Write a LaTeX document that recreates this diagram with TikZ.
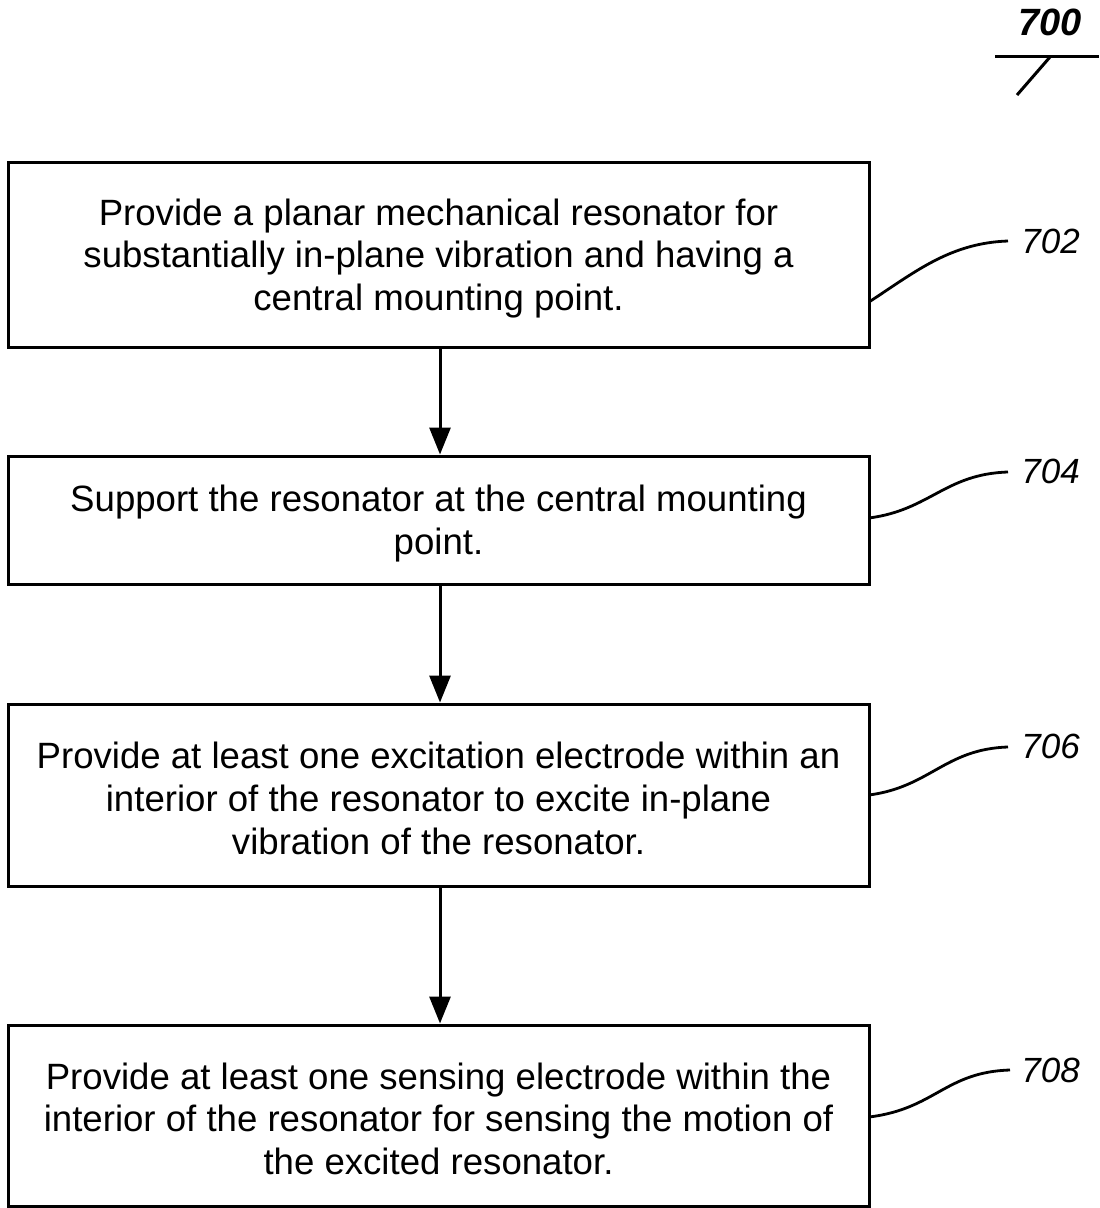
\documentclass[tikz,border=0pt]{standalone}
\usepackage{fontspec}
\setmainfont{Liberation Sans}
\usetikzlibrary{arrows.meta}
\newcommand{\toppad}{\rule{0pt}{16.6pt}}
\begin{document}
\begin{tikzpicture}[x=0.5pt,y=-0.5pt,
  stepbox/.style={draw,line width=1.5pt,minimum width=430.5pt,inner sep=0pt,align=center,
    font=\fontsize{18.3}{21.3}\selectfont},
  flow/.style={line width=1.5pt,-{Triangle[length=13.5pt,width=10.5pt]}},
  leader/.style={line width=1.4pt},
  reflabel/.style={font=\fontsize{17.5}{20}\selectfont\itshape,anchor=west,inner sep=0pt}]
\useasboundingbox (0,0) rectangle (1099,1208);
\node[stepbox,minimum height=92pt] (b1) at (438.5,255)
  {\toppad Provide a planar mechanical resonator for\\substantially in-plane vibration and having a\\central mounting point.};
\node[stepbox,minimum height=64pt] (b2) at (438.5,520)
  {\toppad Support the resonator at the central mounting\\point.};
\node[stepbox,minimum height=91pt] (b3) at (438.5,795)
  {\toppad Provide at least one excitation electrode within an\\interior of the resonator to excite in-plane\\vibration of the resonator.};
\node[stepbox,minimum height=90.5pt] (b4) at (438.5,1115.5)
  {\toppad Provide at least one sensing electrode within the\\interior of the resonator for sensing the motion of\\the excited resonator.};
\draw[flow] (b1.south -| 440,0) -- (b2.north -| 440,0);
\draw[flow] (b2.south -| 440,0) -- (b3.north -| 440,0);
\draw[flow] (b3.south -| 440,0) -- (b4.north -| 440,0);
\node[reflabel] (l1) at (1021,241) {702};
\node[reflabel] (l2) at (1021,471) {704};
\node[reflabel] (l3) at (1021,746) {706};
\node[reflabel] (l4) at (1021,1070) {708};
\coordinate (a1) at (869,302);
\coordinate (a2) at (869,518);
\coordinate (a3) at (869,795);
\coordinate (a4) at (869,1117);
\coordinate (e1) at (1008,241);
\coordinate (e2) at (1008,472);
\coordinate (e3) at (1008,747);
\coordinate (e4) at (1010,1070);
\draw[leader] (a1) .. controls (915,272) and (950,243) .. (e1);
\draw[leader] (a2) .. controls (930,510) and (945,474) .. (e2);
\draw[leader] (a3) .. controls (930,787) and (945,749) .. (e3);
\draw[leader] (a4) .. controls (935,1109) and (945,1072) .. (e4);
\node[font=\fontsize{19}{20}\selectfont\bfseries\itshape,inner sep=0pt] (n700) at (1050,22) {700};
\coordinate (u1) at (995,57);
\coordinate (u2) at (1099,57);
\coordinate (s1) at (1050,57);
\coordinate (s2) at (1017,95);
\draw[line width=1.5pt] (u1) -- (u2);
\draw[line width=1.5pt] (s1) -- (s2);
\end{tikzpicture}
\end{document}
